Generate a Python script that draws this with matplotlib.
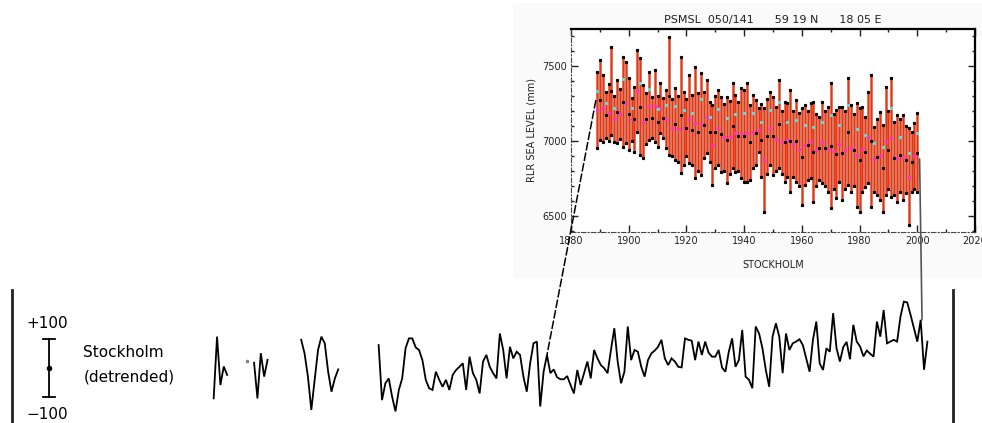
import numpy as np
import matplotlib
matplotlib.use("Agg")
import matplotlib.pyplot as plt
from matplotlib.patches import ConnectionPatch, Rectangle
from matplotlib.ticker import MultipleLocator

# ---------------- data: Stockholm detrended annual series (mm) ----------------
stk_years = ([1789, 1790, 1791, 1792, 1793]
             + [1799]
             + [1801, 1802, 1803, 1804, 1805]
             + list(range(1815, 1827))
             + list(range(1838, 2002)))
stk_values = ([-105, 108, -59, 5, -24]
              + [24]
              + [18, -105, 51, -30, 28]
              + [97, 50, -30, -145, -41, 62, 108, 85, -13, -82, -36, -5]
              + [79, -111, -53, -36, -99, -150, -76, -36, 68, 102,
                 102, 71, 62, 27, -41, -70, -76, -13, -41, -65,
                 -41, -76, -24, -7, 4, 16, -76, 39, -18, -41,
                 -88, 22, 45, 4, -18, -36, 119, 62, -36, 73,
                 33, 56, 45, -30, -82, 16, 85, 91, -133, -13,
                 45, -18, -5, -32, -39, -39, -28, -59, -88, -7,
                 -59, -18, 22, -36, 62, 33, 10, -1, -18, 62,
                 137, 22, -53, -13, 143, 27, 62, 56, 4, -30,
                 27, 50, 60, 73, 97, 33, 10, 33, 22, 4,
                 2, 102, 97, 94, 27, 91, 45, 91, 53, 39,
                 39, 62, 1, -13, 56, 102, 4, 27, 131, -30,
                 -41, -70, 143, 119, 68, -7, -65, 108, 154, 108,
                 -18, 119, 62, 85, 91, 99, 79, 33, -13, 97,
                 160, 16, -7, 68, 56, 189, 68, 22, 72, 90,
                 30, 149, 91, 74, 40, 60, 49, 39, 160, 108,
                 200, 85, 91, 97, 91, 177, 229, 226, 183, 137,
                 91, 166, -6, 91])

# ---------------- data: PSMSL monthly RLR range per year (mm) ----------------
psmsl_years = list(range(1889, 2001))
psmsl_max = [7462, 7540, 7440, 7330, 7380, 7629, 7300, 7406, 7350, 7562,
             7529, 7417, 7290, 7362, 7606, 7551, 7373, 7320, 7462, 7295,
             7473, 7300, 7384, 7284, 7340, 7695, 7280, 7351, 7300, 7562,
             7329, 7280, 7440, 7306, 7495, 7320, 7451, 7329, 7406, 7260,
             7240, 7300, 7340, 7295, 7250, 7295, 7270, 7384, 7306, 7260,
             7351, 7340, 7384, 7240, 7306, 7273, 7218, 7250, 7218, 7280,
             7329, 7295, 7230, 7406, 7200, 7262, 7251, 7340, 7200, 7273,
             7190, 7218, 7240, 7200, 7251, 7262, 7180, 7162, 7262, 7200,
             7229, 7384, 7180, 7206, 7229, 7229, 7200, 7417, 7240, 7180,
             7251, 7218, 7229, 7160, 7329, 7440, 7095, 7150, 7195, 7106,
             7362, 7200, 7417, 7129, 7173, 7150, 7173, 7100, 7084, 7062,
             7120, 7184]
psmsl_min = [6951, 7006, 6995, 7020, 7000, 7040, 6990, 6984, 7010, 6962,
             6984, 6940, 7000, 6929, 7062, 6906, 6884, 6980, 7006, 7017,
             6995, 6960, 7051, 7017, 6950, 6906, 6900, 6873, 6860, 6784,
             6840, 6900, 6851, 6840, 6751, 6800, 6773, 6884, 6918, 6860,
             6706, 6820, 6840, 6795, 6800, 6718, 6780, 6818, 6795, 6800,
             6751, 6729, 6729, 6740, 6820, 6840, 6929, 6760, 6529, 6780,
             6840, 6773, 6800, 6818, 6780, 6729, 6762, 6662, 6760, 6729,
             6700, 6573, 6706, 6740, 6751, 6595, 6700, 6740, 6718, 6700,
             6662, 6551, 6680, 6618, 6729, 6607, 6680, 6706, 6662, 6700,
             6562, 6529, 6662, 6690, 6718, 6562, 6662, 6640, 6607, 6529,
             6640, 6680, 6629, 6640, 6595, 6660, 6607, 6650, 6440, 6662,
             6680, 6662]

inset_title = "PSMSL  050/141      59 19 N      18 05 E"
inset_xlabel = "STOCKHOLM"
inset_ylabel = "RLR SEA LEVEL (mm)"
inset_xticks = [1880, 1900, 1920, 1940, 1960, 1980, 2000, 2020]
inset_yticks = [6500, 7000, 7500]

# ---------------- figure ----------------
W, H = 982, 423
fig = plt.figure(figsize=(W / 100, H / 100), dpi=100)
fig.patch.set_facecolor("white")

# faint panel behind the inset
fig.add_artist(Rectangle((513 / W, 1 - 278 / H), (W - 513) / W, 275 / H,
                         transform=fig.transFigure, facecolor="#fafafa",
                         edgecolor="none", zorder=0))

# ---- main strip ----
ax = fig.add_axes([12 / W, 0.0, (953 - 12) / W, (H - 290) / H])
ax.set_facecolor("none")
ax.set_xlim(1729.1, 2008.6)
ax.set_ylim(-190, 269)
for s in ["top", "bottom"]:
    ax.spines[s].set_visible(False)
for s in ["left", "right"]:
    ax.spines[s].set_linewidth(2.0)
    ax.spines[s].set_color("#222222")
ax.set_xticks([])
ax.set_yticks([])

yrs = np.array(stk_years)
vals = np.array(stk_values, dtype=float)
breaks = np.where(np.diff(yrs) > 1)[0] + 1
for sy, sv in zip(np.split(yrs, breaks), np.split(vals, breaks)):
    if len(sy) == 1:
        ax.plot(sy, sv, "s", color="#888888", ms=1.5)
    else:
        ax.plot(sy, sv, color="black", lw=1.3, solid_joinstyle="miter")

# scale bar
ax.plot([1740.0, 1740.0], [-100, 100], color="black", lw=1.3)
ax.plot([1738.2, 1741.8], [100, 100], color="black", lw=1.3)
ax.plot([1738.2, 1741.8], [-100, -100], color="black", lw=1.3)
ax.plot([1740.0], [0], "o", color="black", ms=3)
ax.text(1739.6, 155, "+100", ha="center", va="center", fontsize=11)
ax.text(1739.6, -162, "\u2212100", ha="center", va="center", fontsize=11)
ax.text(1750.3, 55, "Stockholm", ha="left", va="center", fontsize=11)
ax.text(1750.3, -31, "(detrended)", ha="left", va="center", fontsize=11)

# ---- inset ----
ins = fig.add_axes([571 / W, 1 - 232 / H, 404 / W, 203 / H])
ins.set_facecolor("white")
ins.set_xlim(1880, 2020)
ins.set_ylim(6393, 7747)
py = np.array(psmsl_years)
pmax = np.array(psmsl_max)
pmin = np.array(psmsl_min)
ins.vlines(py, pmin, pmax, color="#c0603f", lw=1.8, zorder=2)
ins.vlines(py, pmin, pmax, color="#ff2a0a", lw=0.9, zorder=3)
pmid = (pmax + pmin) / 2.0
ins.plot(py, pmax, "s", color="black", ms=1.3, zorder=4)
ins.plot(py, pmin, "s", color="black", ms=1.3, zorder=4)
ins.plot(py[::2], pmid[::2], "s", color="#ff33bb", ms=2.0, zorder=4)
ins.plot(py[1::2], pmid[1::2], "s", color="black", ms=1.2, zorder=4)
ins.plot(py[::3], (pmid[::3] + pmax[::3]) / 2.0, "s", color="#66dddd", ms=1.2, zorder=4)

ins.set_xticks(inset_xticks)
ins.set_xticklabels([str(t) for t in inset_xticks])
ins.set_yticks(inset_yticks)
ins.set_yticklabels([str(t) for t in inset_yticks])
ins.xaxis.set_minor_locator(MultipleLocator(10))
ins.yaxis.set_minor_locator(MultipleLocator(100))
ins.tick_params(which="both", direction="in", top=True, right=True,
                labelsize=7, pad=3, width=1.0, color="#222222")
ins.tick_params(which="major", length=5)
ins.tick_params(which="minor", length=2.5)
for lab in ins.get_xticklabels() + ins.get_yticklabels():
    lab.set_color("#222222")
ins.spines["top"].set_linewidth(1.6)
ins.spines["right"].set_linewidth(1.6)
ins.spines["left"].set_linestyle((0, (4, 2, 1, 2)))
ins.spines["bottom"].set_linestyle((0, (4, 2, 1, 2)))
ins.spines["left"].set_color("#444444")
ins.spines["bottom"].set_color("#444444")
ins.set_title(inset_title, fontsize=8, pad=4, color="#222222")
ins.set_xlabel(inset_xlabel, fontsize=7, labelpad=10, color="#222222")
ins.set_ylabel(inset_ylabel, fontsize=7, labelpad=4, color="#222222")

# connectors from inset to the strip
c1 = ConnectionPatch(xyA=(1888.6, 7270), coordsA=ins.transData,
                     xyB=(1888, 45), coordsB=ax.transData,
                     color="black", lw=1.1, linestyle=(0, (5, 2)), zorder=5)
fig.add_artist(c1)
c2 = ConnectionPatch(xyA=(2000.8, 6880), coordsA=ins.transData,
                     xyB=(1999.4, 166), coordsB=ax.transData,
                     color="#555555", lw=1.2, zorder=5)
fig.add_artist(c2)

fig.savefig("out.png", dpi=100, facecolor="white")
